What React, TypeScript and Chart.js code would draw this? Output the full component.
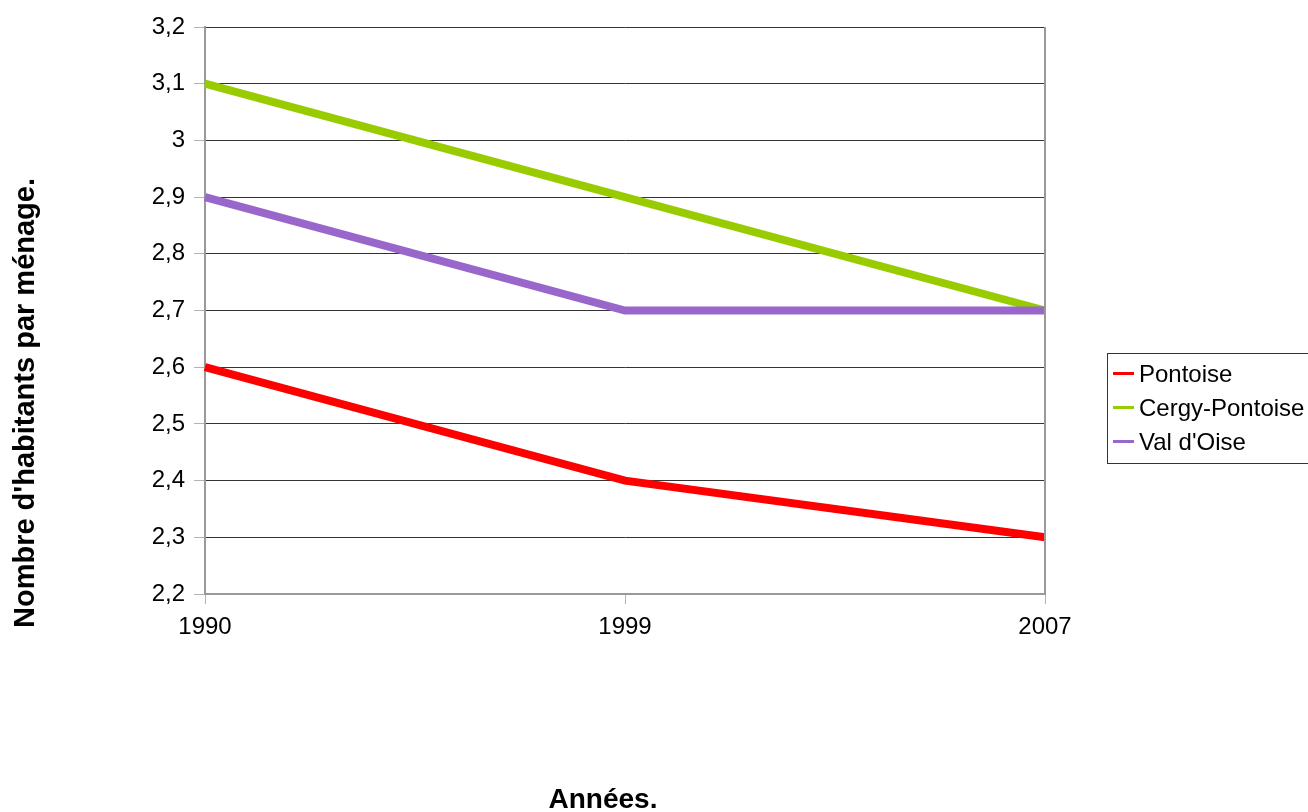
import React, { useEffect, useRef } from "react";
import { Chart, registerables } from "chart.js";

Chart.register(...registerables);

// Household size (inhabitants per household) by census year
const years = ["1990", "1999", "2007"];
const pontoise = [2.6, 2.4, 2.3];
const cergyPontoise = [3.1, 2.9, 2.7];
const valDOise = [2.9, 2.7, 2.7];

const seriesNames = ["Pontoise", "Cergy-Pontoise", "Val d'Oise"];
const seriesColors = ["#ff0000", "#99cc00", "#9966cc"];

const yMin = 2.2;
const yMax = 3.2;
const yStep = 0.1;

const xTitle = "Années.";
const yTitle = "Nombre d'habitants par ménage.";

const FONT = "'Liberation Sans', Arial, sans-serif";

const frameAndTitles = {
  id: "frameAndTitles",
  afterDraw(chart: any) {
    const { ctx, chartArea } = chart;
    ctx.save();
    // right edge of the plot frame
    ctx.strokeStyle = "#999999";
    ctx.lineWidth = 2;
    ctx.beginPath();
    ctx.moveTo(chartArea.right, chartArea.top);
    ctx.lineTo(chartArea.right, chartArea.bottom);
    ctx.stroke();

    // axis titles
    ctx.fillStyle = "#000000";
    ctx.font = `bold 28px ${FONT}`;
    ctx.textAlign = "center";
    ctx.textBaseline = "alphabetic";
    ctx.fillText(xTitle, 603, 808);

    ctx.save();
    ctx.font = `bold 29px ${FONT}`;
    ctx.translate(34, 403);
    ctx.rotate(-Math.PI / 2);
    ctx.fillText(yTitle, 0, 0);
    ctx.restore();

    // legend box
    const bx = 1107;
    const by = 353.5;
    const bw = 210;
    const bh = 110;
    ctx.strokeStyle = "#333333";
    ctx.lineWidth = 1;
    ctx.strokeRect(bx + 0.5, by, bw, bh);

    ctx.font = `24px ${FONT}`;
    ctx.textAlign = "left";
    ctx.textBaseline = "middle";
    chart.data.datasets.forEach((ds: any, i: number) => {
      const y = 373.5 + i * 34;
      ctx.strokeStyle = ds.borderColor;
      ctx.lineWidth = 3;
      ctx.beginPath();
      ctx.moveTo(1113, y);
      ctx.lineTo(1134, y);
      ctx.stroke();
      ctx.fillStyle = "#000000";
      ctx.fillText(ds.label, 1139, y + 1.5);
    });
    ctx.restore();
  },
};

export default function App() {
  const canvasRef = useRef<HTMLCanvasElement | null>(null);

  useEffect(() => {
    const canvas = canvasRef.current;
    if (!canvas) return;
    const values = [pontoise, cergyPontoise, valDOise];
    const chart = new Chart(canvas, {
      type: "line",
      data: {
        labels: years,
        datasets: values.map((data, i) => ({
          label: seriesNames[i],
          data,
          borderColor: seriesColors[i],
          backgroundColor: seriesColors[i],
          borderWidth: 8,
          pointRadius: 0,
          pointHoverRadius: 0,
          tension: 0,
          fill: false,
          borderCapStyle: "butt" as const,
          order: values.length - i,
        })),
      },
      options: {
        responsive: false,
        animation: false,
        layout: { padding: { left: 0, top: 27, right: 263, bottom: 168 } },
        plugins: {
          legend: { display: false },
          tooltip: { enabled: false },
          title: { display: false },
        },
        scales: {
          x: {
            type: "category",
            offset: false,
            afterFit: (s: any) => {
              s.height = 50;
            },
            grid: {
              display: true,
              drawOnChartArea: false,
              drawTicks: true,
              tickLength: 10,
              tickColor: "#b3b3b3",
              tickWidth: 1,
            },
            border: { display: true, color: "#999999", width: 2 },
            ticks: {
              color: "#000000",
              font: { family: FONT, size: 24 },
              padding: 9,
              maxRotation: 0,
              autoSkip: false,
            },
          },
          y: {
            type: "linear",
            min: yMin,
            max: yMax,
            afterFit: (s: any) => {
              s.width = 205;
            },
            grid: {
              color: "#333333",
              lineWidth: 1,
              drawTicks: true,
              tickLength: 11,
              tickColor: "#b3b3b3",
              tickWidth: 1,
            },
            border: { display: true, color: "#999999", width: 2 },
            ticks: {
              stepSize: yStep,
              color: "#000000",
              font: { family: FONT, size: 24 },
              padding: 9,
              callback: (value: any) =>
                String(Math.round(Number(value) * 10) / 10).replace(".", ","),
            },
          },
        },
      },
      plugins: [frameAndTitles],
    });
    return () => chart.destroy();
  }, []);

  return (
    <div
      style={{
        position: "fixed",
        left: 0,
        top: 0,
        width: 1308,
        height: 812,
        background: "#ffffff",
      }}
    >
      <canvas ref={canvasRef} width={1308} height={812} />
    </div>
  );
}
